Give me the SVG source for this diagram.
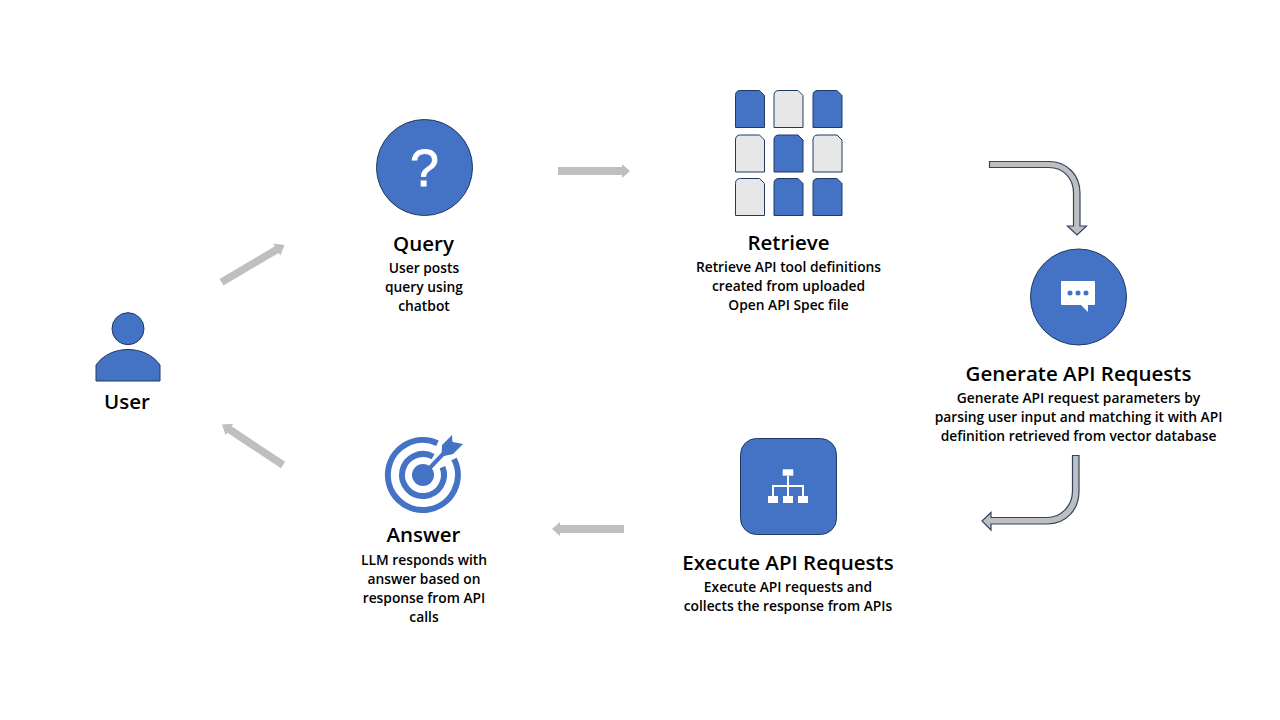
<svg xmlns="http://www.w3.org/2000/svg" width="1280" height="720" viewBox="0 0 1280 720">
<style>
text{font-family:"Open Sans","Noto Sans","Liberation Sans",sans-serif;fill:#000;text-anchor:middle}
.t{font-size:20.500px;font-weight:600}
.b{font-size:13.800px;font-weight:600}
.n{fill:#4472c4;stroke:#203864;stroke-width:1}
.g{fill:#e7e7e7;stroke:#203864;stroke-width:1}
.w{fill:#fff}
.wl{fill:none;stroke:#fff;stroke-width:2}
.tg{fill:none;stroke:#4472c4;stroke-width:6}
.a{fill:#bfbfbf}
.ab{fill:#bfbfbf;stroke:#2f4468;stroke-width:1.2}
</style>
<defs>
<path id="doc" d="M0 37V5Q0 0 5 0H24L29 5V37Z"/>
</defs>
<rect width="1280" height="720" fill="#fff"/>
<g id="connectors">
<polygon class="a" points="558,167 622,167 622,164 630,171 622,178 622,175 558,175"/>
<polygon class="a" points="219.600,279 274.900,246.300 273.200,243.600 284.500,245 280.400,255.600 278.700,252.900 223.400,285.600"/>
<polygon class="a" points="285.100,461.800 231.600,426.300 233.400,423.700 222,424.500 225.600,435.300 227.400,432.700 280.900,468.200"/>
<polygon class="a" points="624,525 560,525 560,522 552,529 560,536 560,533 624,533"/>
<path class="ab" d="M989.500 161.500H1049C1067 161.500 1080 175 1080 193V226H1086.500L1077 235L1067.500 226H1073.500V193C1073.500 178 1063 167.500 1049 167.500H989.500Z"/>
<path class="ab" d="M1072.500 455.500H1079V491C1079 510 1066 524 1047 524H991V530L982 521L991 512.500V517.500H1047C1061 517.500 1072.500 506 1072.500 491Z"/>
</g>
<g id="user">
<circle class="n" cx="128" cy="328.700" r="16"/>
<path class="n" d="M96 381V365C103 355 115 349.500 128 349.500S153 355 160 365V381Z"/>
<text class="t" x="127" y="409">User</text>
</g>
<g id="query">
<circle class="n" cx="424.500" cy="167.500" r="48"/>
<text x="424.500" y="186" style="font-family:'Liberation Sans',sans-serif;font-size:52px;fill:#fff;stroke:#fff;stroke-width:0.8">?</text>
<text class="t" x="423.500" y="251">Query</text>
<text class="b" x="424" y="273">User posts</text>
<text class="b" x="424" y="292">query using</text>
<text class="b" x="424" y="311">chatbot</text>
</g>
<g id="retrieve">
<use href="#doc" class="n" x="735.500" y="90.500"/>
<use href="#doc" class="g" x="774" y="90.500"/>
<use href="#doc" class="n" x="813" y="90.500"/>
<use href="#doc" class="g" x="735.500" y="135"/>
<use href="#doc" class="n" x="774" y="135"/>
<use href="#doc" class="g" x="813" y="135"/>
<use href="#doc" class="g" x="735.500" y="178.500"/>
<use href="#doc" class="n" x="774" y="178.500"/>
<use href="#doc" class="n" x="813" y="178.500"/>
<text class="t" x="788.500" y="250">Retrieve</text>
<text class="b" x="788.500" y="272">Retrieve API tool definitions</text>
<text class="b" x="788.500" y="291">created from uploaded</text>
<text class="b" x="788.500" y="310">Open API Spec file</text>
</g>
<g id="generate">
<circle class="n" cx="1078.500" cy="297" r="48"/>
<path class="w" d="M1062 281H1094Q1095 281 1095 282V304Q1095 305 1094 305H1088V312L1081 305H1062Q1061 305 1061 304V282Q1061 281 1062 281Z"/>
<circle cx="1070" cy="293" r="2.500" fill="#4472c4"/>
<circle cx="1078" cy="293" r="2.500" fill="#4472c4"/>
<circle cx="1086" cy="293" r="2.500" fill="#4472c4"/>
<text class="t" x="1078.500" y="381">Generate API Requests</text>
<text class="b" x="1078.500" y="403">Generate API request parameters by</text>
<text class="b" x="1078.500" y="422">parsing user input and matching it with API</text>
<text class="b" x="1078.500" y="441">definition retrieved from vector database</text>
</g>
<g id="execute">
<rect class="n" x="740.500" y="438.500" width="96" height="96" rx="16"/>
<rect class="w" x="782.700" y="469.300" width="10.600" height="6.400"/>
<rect class="w" x="768" y="496" width="10" height="7"/>
<rect class="w" x="783" y="496" width="10" height="7"/>
<rect class="w" x="798" y="496" width="10" height="7"/>
<path class="wl" d="M788 476V496M773 496V486H803V496"/>
<text class="t" x="788" y="570">Execute API Requests</text>
<text class="b" x="788" y="592">Execute API requests and</text>
<text class="b" x="788" y="611">collects the response from APIs</text>
</g>
<g id="answer">
<path class="tg" d="M437.500 443.200A35 35 0 1 0 454 459"/>
<path class="tg" d="M433.100 456.600A21 21 0 1 0 442.500 467.200"/>
<circle cx="423" cy="475" r="11" fill="#4472c4"/>
<path d="M423 475L444 453" stroke="#4472c4" stroke-width="4" fill="none"/>
<polygon points="441.500,456 442,445 452,435 452.500,442 463,444 453,454 444,456" fill="#4472c4"/>
<text class="t" x="423.500" y="542">Answer</text>
<text class="b" x="424" y="565">LLM responds with</text>
<text class="b" x="424" y="584">answer based on</text>
<text class="b" x="424" y="603">response from API</text>
<text class="b" x="424" y="622">calls</text>
</g>
</svg>
